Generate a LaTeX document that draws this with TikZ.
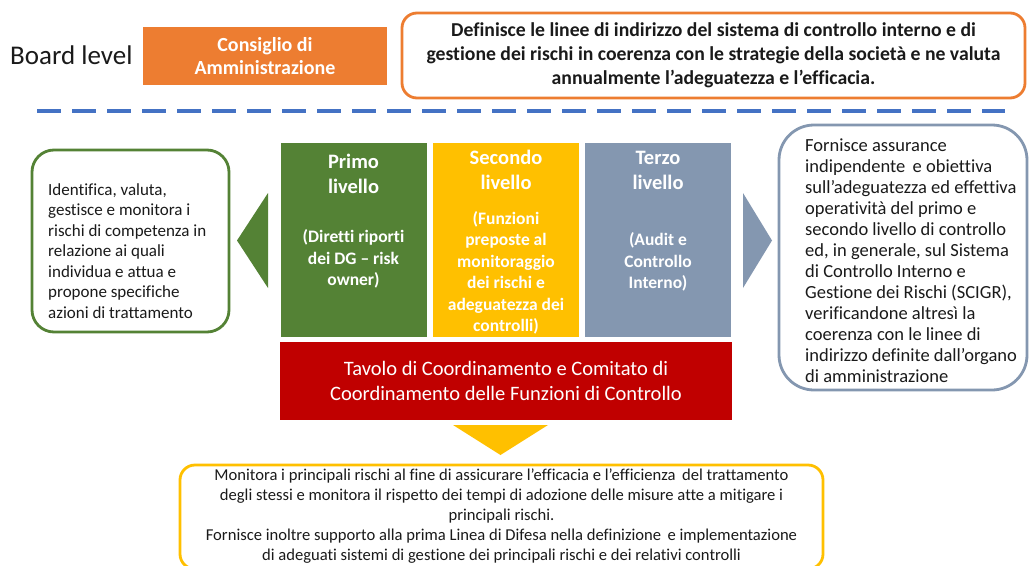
\documentclass[tikz,border=0pt]{standalone}
\usepackage{fontspec}
\setmainfont{Carlito}[Ligatures=NoCommon]
\definecolor{cgreen}{HTML}{548235}
\definecolor{corange}{HTML}{ED7D31}
\definecolor{cyellow}{HTML}{FFC000}
\definecolor{cslate}{HTML}{8497B0}
\definecolor{cred}{HTML}{C00000}
\definecolor{cblue}{HTML}{4472C4}
\definecolor{ctext}{HTML}{1A1A1A}
\tikzset{
  fs/.style n args={2}{font=\fontsize{#1}{#2}\selectfont},
  levelbox/.style={inner sep=0, minimum width=146, minimum height=194},
  titletext/.style={text=white, align=center, inner sep=0, font=\bfseries\fontsize{20.5}{25}\selectfont},
  subtext/.style={text=white, align=center, inner sep=0, font=\bfseries\fontsize{17.5}{21.5}\selectfont},
  infobox/.style={draw, line width=2.8pt, fill=white, inner sep=0},
  bodytext/.style={text=ctext, inner sep=0},
}
\begin{document}
\begin{tikzpicture}[x=1pt,y=-1pt]
\useasboundingbox (0,0) rectangle (1033,565);
\fill[white] (0,0) rectangle (1033,565);

% Board level row
\node[anchor=west, text=ctext, inner sep=0, fs={27}{31}] (board) at (10,55) {Board level};
\node[fill=corange, minimum width=244, minimum height=58, inner sep=0, text=white,
      align=center, font=\bfseries\fontsize{20}{23}\selectfont] (cda) at (265,56)
      {Consiglio di\\Amministrazione};
\node[infobox, draw=corange, rounded corners=15, minimum width=623, minimum height=85] (defbox) at (713.5,55.5) {};
\node[bodytext, align=center, font=\bfseries\fontsize{19.7}{24}\selectfont] (deftext) at (defbox.center)
  {Definisce le linee di indirizzo del sistema di controllo interno e di\\
   gestione dei rischi in coerenza con le strategie della società e ne valuta\\
   annualmente l’adeguatezza e l’efficacia.};

% dashed separator
\coordinate (dashL) at (37,111);
\coordinate (dashR) at (1005,111);
\draw[cblue, line width=3.5pt, dash pattern=on 24pt off 11pt] (dashL) -- (dashR);

% left box
\node[infobox, draw=cgreen, rounded corners=22, minimum width=197, minimum height=182] (leftbox) at (130.5,241) {};
\node[bodytext, anchor=west, align=left, fs={17}{20.5}] (lefttext) at (48,251)
  {Identifica, valuta,\\gestisce e monitora i\\rischi di competenza in\\relazione ai quali\\individua e attua e\\propone specifiche\\azioni di trattamento};

% left triangle
\coordinate (ltTip) at (237,240.5);
\coordinate (ltTop) at (268,193);
\coordinate (ltBot) at (268,288);
\fill[cgreen] (ltTip) -- (ltTop) -- (ltBot) -- cycle;

% level boxes
\node[levelbox, fill=cgreen] (primo) at (353.5,240) {};
\node[levelbox, fill=cyellow] (secondo) at (506,240) {};
\node[levelbox, fill=cslate] (terzo) at (658,240) {};

\node[titletext] (primoT) at (353.5,174) {Primo\\livello};
\node[subtext] (primoS) at (353.5,259) {(Diretti riporti\\dei DG – risk\\owner)};
\node[titletext] (secondoT) at (506,170) {Secondo\\livello};
\node[subtext] (secondoS) at (506,273) {(Funzioni\\preposte al\\monitoraggio\\dei rischi e\\adeguatezza dei\\controlli)};
\node[titletext] (terzoT) at (658,170) {Terzo\\livello};
\node[subtext] (terzoS) at (658,262) {(Audit e\\Controllo\\Interno)};

% red bar
\node[fill=cred, minimum width=452, minimum height=78, inner sep=0, text=white, align=center,
      fs={20.5}{25}] (tavolo) at (506,381)
  {Tavolo di Coordinamento e Comitato di\\Coordinamento delle Funzioni di Controllo};

% right triangle
\coordinate (rtTop) at (743,193);
\coordinate (rtBot) at (743,288);
\coordinate (rtTip) at (772,240.5);
\fill[cslate] (rtTop) -- (rtTip) -- (rtBot) -- cycle;

% right box
\node[infobox, draw=cslate, rounded corners=35, minimum width=248, minimum height=265] (rightbox) at (903,257.5) {};
\node[bodytext, anchor=west, align=left, fs={18.5}{21}] (righttext) at (805,261)
  {Fornisce assurance\\indipendente\, e obiettiva\\sull’adeguatezza ed effettiva\\operatività del primo e\\secondo livello di controllo\\ed, in generale, sul Sistema\\di Controllo Interno e\\Gestione dei Rischi (SCIGR),\\verificandone altresì la\\coerenza con le linee di\\indirizzo definite dall’organo\\di amministrazione};

% down triangle
\coordinate (dtL) at (453,425);
\coordinate (dtR) at (548,425);
\coordinate (dtTip) at (500.5,455);
\fill[cyellow] (dtL) -- (dtR) -- (dtTip) -- cycle;

% bottom box
\node[infobox, draw=cyellow, rounded corners=15, minimum width=643, minimum height=104] (botbox) at (501.5,517) {};
\node[bodytext, align=center, fs={16.6}{20}] (bottext) at (501.5,516.5)
  {Monitora i principali rischi al fine di assicurare l’efficacia e l’efficienza\, del trattamento\\
   degli stessi e monitora il rispetto dei tempi di adozione delle misure atte a mitigare i\\
   principali rischi.\\
   Fornisce inoltre supporto alla prima Linea di Difesa nella definizione\, e implementazione\\
   di adeguati sistemi di gestione dei principali rischi e dei relativi controlli};
\end{tikzpicture}
\end{document}
